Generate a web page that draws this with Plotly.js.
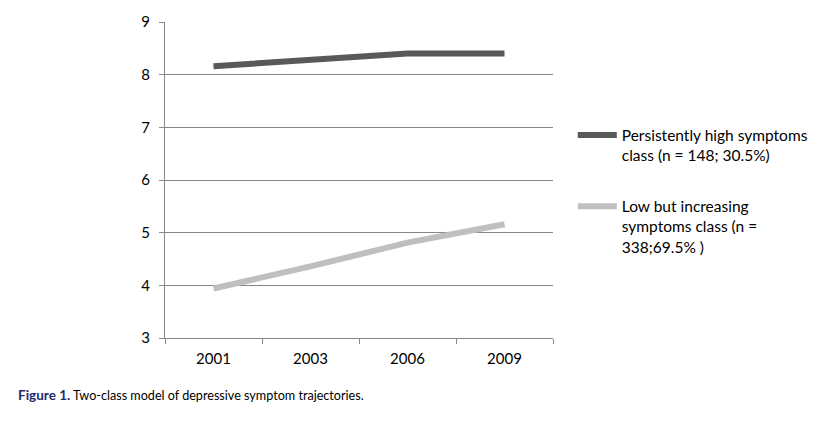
<!DOCTYPE html>
<html>
<head>
<meta charset="utf-8">
<script src="https://cdn.plot.ly/plotly-3.0.1.min.js"></script>
<style>html,body{margin:0;padding:0;background:#fff;}#chart{width:821px;height:421px;}</style>
</head>
<body>
<div id="chart"></div>
<script>
const years = ["2001", "2003", "2006", "2009"];
const highSeries = [8.16, 8.29, 8.40, 8.40];
const lowSeries = [3.94, 4.36, 4.81, 5.16];
const seriesNames = [
  "Persistently high symptoms<br>class (n = 148; 30.5%)",
  "Low but increasing<br>symptoms class (n =<br>338;69.5% )"
];
const yTicks = [3, 4, 5, 6, 7, 8, 9];
const caption = "<b style='color:#1f2a6e;font-size:13.5px'>Figure 1.</b> Two-class model of depressive symptom trajectories.";

const FONT = "Lato, 'Open Sans', sans-serif";

const traces = [
  {x: years, y: highSeries, name: seriesNames[0], type: "scatter", mode: "lines",
   line: {color: "#595959", width: 6}, legendgroup: "a"},
  {x: years, y: lowSeries, name: seriesNames[1], type: "scatter", mode: "lines",
   line: {color: "#bfbfbf", width: 6}, legendgroup: "b"}
];

const layout = {
  width: 821, height: 421,
  margin: {l: 165, r: 268, t: 22, b: 83, autoexpand: false},
  paper_bgcolor: "#ffffff", plot_bgcolor: "#ffffff",
  font: {family: FONT, size: 15, color: "#000000"},
  xaxis: {
    type: "category", range: [-0.5, 3.5], tickson: "boundaries",
    ticks: "outside", ticklen: 5, tickcolor: "#888888",
    showline: true, linecolor: "#888888", linewidth: 1,
    showgrid: false, zeroline: false,
    tickfont: {family: FONT, size: 15, color: "#000"}, ticklabelstandoff: 7
  },
  yaxis: {
    range: [3, 9], tickvals: yTicks, ticks: "outside", ticklen: 5, tickcolor: "#888888",
    showline: true, linecolor: "#888888", linewidth: 1,
    showgrid: true, gridcolor: "#868686", gridwidth: 1, zeroline: false,
    tickfont: {family: FONT, size: 15, color: "#000"}, ticklabelstandoff: 6
  },
  showlegend: true,
  legend: {
    x: 1.051, xanchor: "left", y: 0.695, yanchor: "top",
    valign: "top", tracegroupgap: 28, itemwidth: 39,
    font: {family: FONT, size: 15.5, color: "#000"},
    bgcolor: "rgba(0,0,0,0)"
  },
  annotations: [{
    xref: "paper", yref: "paper", x: -0.384, y: -0.18, xanchor: "left", yanchor: "middle",
    text: caption, showarrow: false,
    font: {family: FONT, size: 12.6, color: "#000"}
  }]
};

Plotly.newPlot("chart", traces, layout, {displayModeBar: false, staticPlot: true});
</script>
</body>
</html>
